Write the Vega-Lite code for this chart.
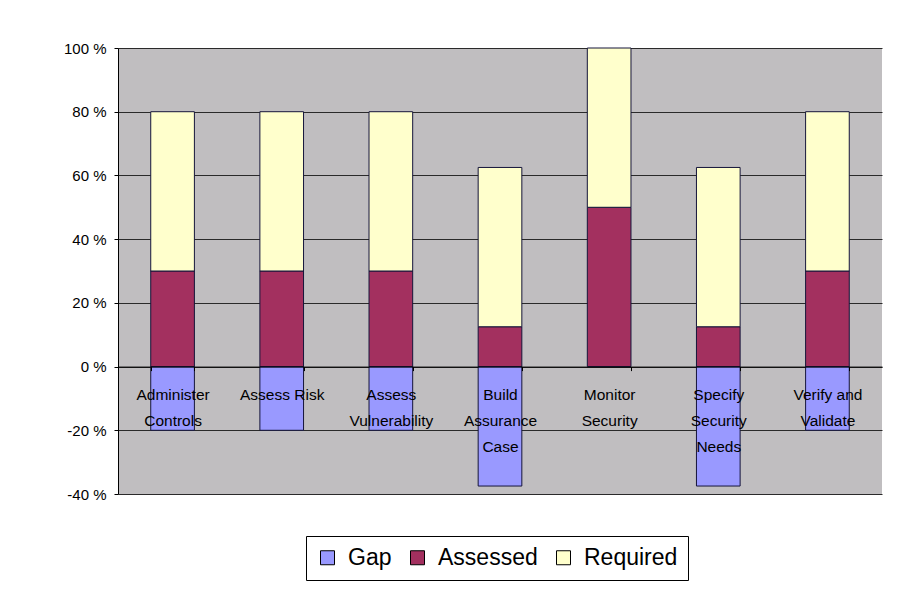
{
  "$schema": "https://vega.github.io/schema/vega-lite/v6.json",
  "width": 764,
  "height": 446,
  "autosize": {"type": "none"},
  "padding": {"left": 118, "top": 48, "right": 18, "bottom": 98},
  "background": "white",
  "config": {
    "view": {"fill": "#C0BEC0", "stroke": null},
    "font": "Liberation Sans"
  },
  "data": {
    "values": [
      {"process": "Administer Controls", "series": "Gap", "value": -20, "order": 0},
      {"process": "Administer Controls", "series": "Assessed", "value": 30, "order": 1},
      {"process": "Administer Controls", "series": "Required", "value": 50, "order": 2},
      {"process": "Assess Risk", "series": "Gap", "value": -20, "order": 0},
      {"process": "Assess Risk", "series": "Assessed", "value": 30, "order": 1},
      {"process": "Assess Risk", "series": "Required", "value": 50, "order": 2},
      {"process": "Assess Vulnerability", "series": "Gap", "value": -20, "order": 0},
      {"process": "Assess Vulnerability", "series": "Assessed", "value": 30, "order": 1},
      {"process": "Assess Vulnerability", "series": "Required", "value": 50, "order": 2},
      {"process": "Build Assurance Case", "series": "Gap", "value": -37.5, "order": 0},
      {"process": "Build Assurance Case", "series": "Assessed", "value": 12.5, "order": 1},
      {"process": "Build Assurance Case", "series": "Required", "value": 50, "order": 2},
      {"process": "Monitor Security", "series": "Assessed", "value": 50, "order": 1},
      {"process": "Monitor Security", "series": "Required", "value": 50, "order": 2},
      {"process": "Specify Security Needs", "series": "Gap", "value": -37.5, "order": 0},
      {"process": "Specify Security Needs", "series": "Assessed", "value": 12.5, "order": 1},
      {"process": "Specify Security Needs", "series": "Required", "value": 50, "order": 2},
      {"process": "Verify and Validate", "series": "Gap", "value": -20, "order": 0},
      {"process": "Verify and Validate", "series": "Assessed", "value": 30, "order": 1},
      {"process": "Verify and Validate", "series": "Required", "value": 50, "order": 2}
    ]
  },
  "mark": {"type": "bar", "stroke": "#15153a", "strokeWidth": 1},
  "encoding": {
    "x": {
      "field": "process",
      "type": "nominal",
      "sort": null,
      "scale": {"paddingInner": 0.6, "paddingOuter": 0.3},
      "axis": {
        "title": null,
        "orient": "bottom",
        "offset": -127.4,
        "zindex": 1,
        "labelAngle": 0,
        "labelFontSize": 15.5,
        "labelColor": "black",
        "labelLineHeight": 26,
        "labelPadding": 17,
        "labelLimit": 200,
        "tickBand": "extent",
        "tickSize": 4,
        "tickColor": "black",
        "domainColor": "black",
        "grid": false,
        "labelExpr": "datum.label == 'Administer Controls' ? ['Administer','Controls'] : datum.label == 'Assess Vulnerability' ? ['Assess','Vulnerability'] : datum.label == 'Build Assurance Case' ? ['Build','Assurance','Case'] : datum.label == 'Monitor Security' ? ['Monitor','Security'] : datum.label == 'Specify Security Needs' ? ['Specify','Security','Needs'] : datum.label == 'Verify and Validate' ? ['Verify and','Validate'] : datum.label"
      }
    },
    "y": {
      "field": "value",
      "type": "quantitative",
      "stack": "zero",
      "scale": {"domain": [-40, 100], "nice": false},
      "axis": {
        "title": null,
        "values": [-40, -20, 0, 20, 40, 60, 80, 100],
        "labelExpr": "datum.value + ' %'",
        "labelFontSize": 15,
        "labelColor": "black",
        "labelPadding": 8,
        "tickSize": 4,
        "tickColor": "black",
        "domainColor": "black",
        "grid": true,
        "gridColor": "#2a2a2a",
        "gridWidth": 1
      }
    },
    "order": {"field": "order", "type": "quantitative"},
    "color": {
      "field": "series",
      "type": "nominal",
      "scale": {
        "domain": ["Gap", "Assessed", "Required"],
        "range": ["#9999FF", "#A3305F", "#FFFFCC"]
      },
      "legend": {
        "title": null,
        "orient": "none",
        "legendX": 188,
        "legendY": 488,
        "direction": "horizontal",
        "strokeColor": "black",
        "fillColor": "white",
        "padding": 10,
        "symbolType": "square",
        "symbolSize": 196,
        "symbolStrokeColor": "black",
        "symbolStrokeWidth": 1,
        "symbolOpacity": 1,
        "labelFontSize": 23,
        "labelColor": "black",
        "labelOffset": 9,
        "columnPadding": 14
      }
    }
  }
}
